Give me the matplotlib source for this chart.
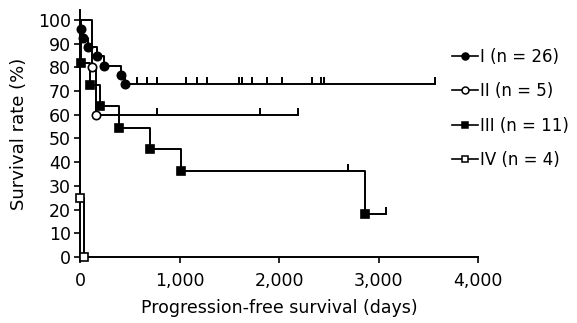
import matplotlib
matplotlib.use("Agg")
import matplotlib.pyplot as plt
from matplotlib.lines import Line2D

plt.rcParams['font.family'] = ['DejaVu Sans']

# days
group_labels = ['I (n = 26)', 'II (n = 5)', 'III (n = 11)', 'IV (n = 4)']

deaths_1 = [15, 30, 80, 170, 240, 410, 450]
censor_1 = [573, 673, 673, 774, 774, 1065, 1176, 1276, 1598, 1628, 1628, 1729,
            1879, 2030, 2332, 2422, 2452, 2452, 3568]

deaths_2 = [120, 165]
censor_2 = [774, 1809, 2190]

deaths_3 = [15, 15, 100, 200, 390, 700, 1015, 2865]
censor_3 = [2690, 2690, 3075]

deaths_4 = [2, 2, 2, 40]
censor_4 = []

x_ticks = [0, 1000, 2000, 3000, 4000]
x_tick_labels = ['0', '1,000', '2,000', '3,000', '4,000']
y_ticks = list(range(0, 101, 10))


def km_curve(deaths, censored):
    """Kaplan-Meier steps in percent"""
    n = len(deaths) + len(censored)
    s = 100.0
    xs, ys = [0], [100.0]
    pts = []
    for t in sorted(set(deaths)):
        gone = sum(1 for d in deaths if d < t) + sum(1 for c in censored if c < t)
        at_risk = n - gone
        d = deaths.count(t)
        s = s * (at_risk - d) / at_risk
        xs.append(t)
        ys.append(s)
        pts.append((t, s))
    end = max(deaths + censored)
    xs.append(end)
    ys.append(s)
    return xs, ys, pts


def surv_at(xs, ys, t):
    val = ys[0]
    for x, y in zip(xs, ys):
        if x <= t:
            val = y
    return val


fig = plt.figure(figsize=(5.77, 3.23), dpi=100)
ax = fig.add_axes([80 / 577, 1 - 257 / 323, 398 / 577, 246.5 / 323])

styles = [
    dict(marker='o', mfc='black', ms=6),
    dict(marker='o', mfc='white', ms=6),
    dict(marker='s', mfc='black', ms=6),
    dict(marker='s', mfc='white', ms=5.5),
]
groups = [(deaths_1, censor_1), (deaths_2, censor_2),
          (deaths_3, censor_3), (deaths_4, censor_4)]

for (deaths, censored), st in zip(groups, styles):
    xs, ys, pts = km_curve(deaths, censored)
    ax.step(xs, ys, where='post', color='black', lw=1.4, clip_on=False, zorder=2)
    ax.plot([p[0] for p in pts], [p[1] for p in pts], ls='none',
            marker=st['marker'], mfc=st['mfc'], mec='black', mew=1.2,
            ms=st['ms'], clip_on=False, zorder=3)
    for c in censored:
        s = surv_at(xs, ys, c)
        ax.vlines(c, s, s + 2.8, color='black', lw=1.4, clip_on=False)

ax.set_xlim(0, 4000)
ax.set_ylim(0, 104)
ax.set_xticks(x_ticks)
ax.set_xticklabels(x_tick_labels)
ax.set_yticks(y_ticks)
ax.spines['top'].set_visible(False)
ax.spines['right'].set_visible(False)
ax.spines['left'].set_linewidth(1.4)
ax.spines['bottom'].set_linewidth(1.4)
ax.tick_params(axis='both', direction='out', length=4, width=1.2,
               labelsize=12.5, colors='black')
ax.tick_params(axis='x', pad=7)
ax.tick_params(axis='y', pad=2.5)

ax.set_xlabel('Progression-free survival (days)', fontsize=12.5, labelpad=6)
ax.set_ylabel('Survival rate (%)', fontsize=13)
ax.yaxis.set_label_coords(-0.131, 0.5)

handles = [Line2D([0], [0], color='black', lw=1.2, marker=st['marker'],
                  mfc=st['mfc'], mec='black', mew=1.1, ms=st['ms'] - 1)
           for st in styles]
fig.legend(handles, group_labels, loc='upper left',
           bbox_to_anchor=(452 / 577, 1 - 48 / 323), frameon=False,
           fontsize=12, handlelength=1.55, handletextpad=0.1,
           labelspacing=0.98, borderpad=0, borderaxespad=0)

fig.savefig('out.png', dpi=100)
